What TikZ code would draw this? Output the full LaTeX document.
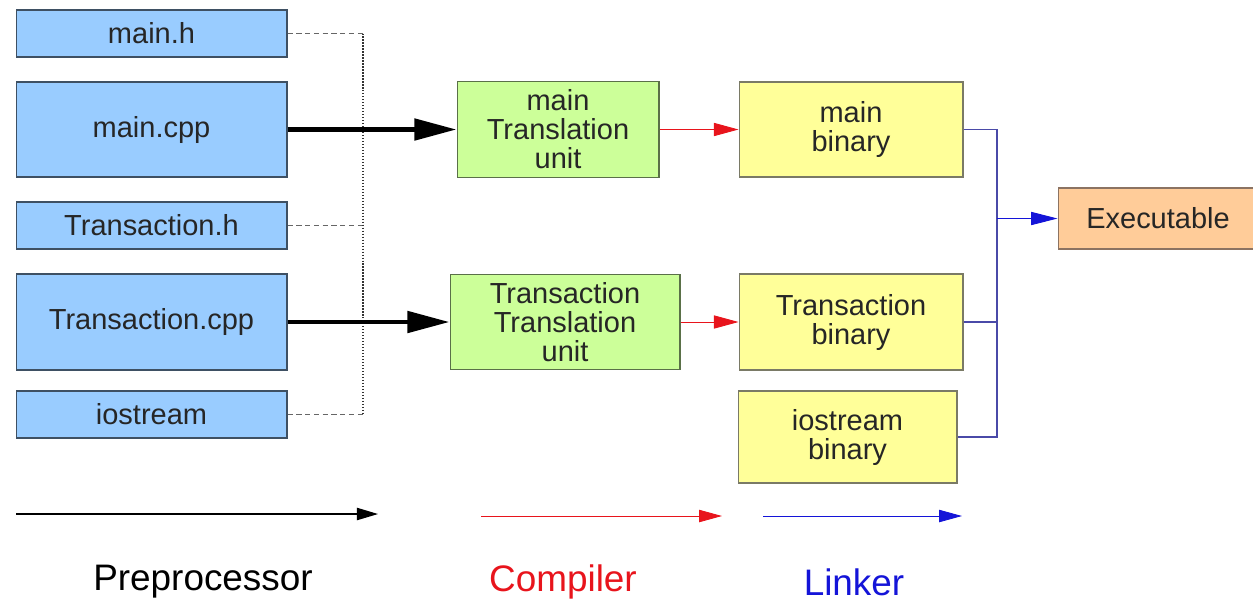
\documentclass[tikz,border=0pt]{standalone}
\usepackage{fontspec}
\setmainfont{Liberation Sans}
\usetikzlibrary{positioning, calc, arrows.meta}

\definecolor{cSrc}{HTML}{99CCFF}
\definecolor{cSrcLine}{HTML}{3E5063}
\definecolor{cTU}{HTML}{CCFF99}
\definecolor{cTULine}{HTML}{5A7048}
\definecolor{cBin}{HTML}{FFFF99}
\definecolor{cBinLine}{HTML}{7A7A66}
\definecolor{cExe}{HTML}{FFCC99}
\definecolor{cExeLine}{HTML}{8C7362}
\definecolor{cRed}{HTML}{E8141C}
\definecolor{cBlue}{HTML}{1414D8}
\definecolor{cBus}{HTML}{4A4AA8}

\begin{document}
\begin{tikzpicture}[
  x=0.02cm, y=-0.02cm,
  font=\fontsize{16.5}{16.5}\selectfont,
  box/.style={draw=#1, line width=0.6pt, align=center, inner sep=1pt,
              text=black!85},
  srcbox/.style={box=cSrcLine, fill=cSrc, minimum width=5.42cm},
  tubox/.style={box=cTULine, fill=cTU, minimum height=1.91cm},
  binbox/.style={box=cBinLine, fill=cBin},
  ppline/.style={densely dashed, gray!80!black, line width=0.5pt},
  ppbus/.style={densely dotted, black!80, line width=0.7pt},
  bigarr/.style={line width=2.8pt, -{Triangle[length=24pt,width=12pt]}},
  redarr/.style={cRed, line width=0.5pt, -{Triangle[length=14pt,width=7.5pt]}},
  bluearr/.style={cBlue, line width=0.5pt, -{Triangle[length=15pt,width=7.5pt]}},
  legend/.style={font=\fontsize{21}{24}\selectfont},
]
\useasboundingbox (0,0) rectangle (1253,603);

% ============================================================================
% source files (left column)
% ============================================================================
\pgfmathsetmacro{\srcX}{151.5}
\node[srcbox, minimum height=0.94cm] (mainh)    at (\srcX, 33.5)  {main.h};
\node[srcbox, minimum height=1.90cm] (maincpp)  at (\srcX,129.5)  {main.cpp};
\node[srcbox, minimum height=0.94cm] (transh)   at (\srcX,225.5)  {Transaction.h};
\node[srcbox, minimum height=1.92cm] (transcpp) at (\srcX,322)    {Transaction.cpp};
\node[srcbox, minimum height=0.94cm] (iostr)    at (\srcX,414.5)  {iostream};

% includes gathered on a dotted bus
\coordinate (pp) at (363,0);
\draw[ppline] (mainh.east)  -- (mainh.east -| pp);
\draw[ppline] (transh.east) -- (transh.east -| pp);
\draw[ppline] (iostr.east)  -- (iostr.east -| pp);
\draw[ppbus] (mainh.east -| pp) -- (iostr.east -| pp);

% ============================================================================
% translation units and binaries
% ============================================================================
\node[tubox, minimum width=4.04cm] (mainTU)  at (558,129.5) {main\\Translation\\unit};
\node[tubox, minimum width=4.60cm] (transTU) at (565,322)   {Transaction\\Translation\\unit};

\node[binbox, minimum width=4.48cm, minimum height=1.90cm] (mainBin)  at (851,129.5) {main\\binary};
\node[binbox, minimum width=4.48cm, minimum height=1.92cm] (transBin) at (851,322)   {Transaction\\binary};
\node[binbox, minimum width=4.38cm, minimum height=1.84cm] (iosBin)   at (847.5,437) {iostream\\binary};

\node[box=cExeLine, fill=cExe, minimum width=4.0cm, minimum height=1.22cm]
      (exe) at (1158,218.5) {Executable};

% preprocessor: thick black arrows
\draw[bigarr] (maincpp.east)  -- (mainTU.west);
\draw[bigarr] (transcpp.east) -- (transTU.west);

% compiler: red arrows
\draw[redarr] (mainTU.east)  -- (mainBin.west);
\draw[redarr] (transTU.east) -- (transBin.west);

% linker: blue bus into the executable
\coordinate (lk) at (997,0);
\draw[cBus, line width=0.6pt]
  (mainBin.east) -- (mainBin.east -| lk) -- (iosBin.east -| lk) -- (iosBin.east);
\draw[cBus, line width=0.6pt] (transBin.east) -- (transBin.east -| lk);
\draw[bluearr] (exe.west -| lk) -- (exe.west);

% ============================================================================
% legend
% ============================================================================
\coordinate (ppA) at (16,514);  \coordinate (ppB) at (378,514);
\coordinate (ccA) at (481,516); \coordinate (ccB) at (722,516);
\coordinate (lkA) at (763,516); \coordinate (lkB) at (962,516);
\draw[line width=0.7pt, -{Triangle[length=12pt,width=7pt]}] (ppA) -- (ppB);
\draw[cRed, line width=0.5pt, -{Triangle[length=13pt,width=7pt]}] (ccA) -- (ccB);
\draw[cBlue, line width=0.5pt, -{Triangle[length=13pt,width=7pt]}] (lkA) -- (lkB);

\node[legend]             (ppLbl) at (203,582) {Preprocessor};
\node[legend, text=cRed]  (ccLbl) at (563,582) {Compiler};
\node[legend, text=cBlue] (lkLbl) at (854,582) {Linker};

\end{tikzpicture}
\end{document}
